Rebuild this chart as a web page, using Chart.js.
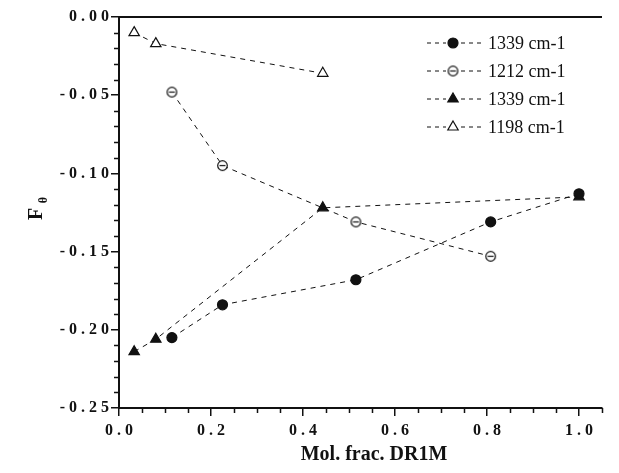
<!DOCTYPE html>
<html>
<head>
<meta charset="utf-8">
<script src="https://cdn.jsdelivr.net/npm/chart.js@4"></script>
<style>
  html, body { margin: 0; padding: 0; background: #fff; }
  #wrap { width: 619px; height: 473px; }
</style>
</head>
<body>
<div id="wrap"><canvas id="chart"></canvas></div>
<script>
// datos
const seriesLabels = ['1339 cm-1', '1212 cm-1', '1339 cm-1', '1198 cm-1'];

const circFillX = [0.115, 0.225, 0.515, 0.808, 1.0];
const circFillY = [-0.205, -0.184, -0.168, -0.131, -0.113];

const circOpenX = [0.115, 0.225, 0.515, 0.808];
const circOpenY = [-0.048, -0.095, -0.131, -0.153];

const triFillX = [0.033, 0.08, 0.443, 1.0];
const triFillY = [-0.214, -0.206, -0.122, -0.115];

const triOpenX = [0.033, 0.08, 0.443];
const triOpenY = [-0.010, -0.017, -0.036];

const xTickValues = [0, 0.2, 0.4, 0.6, 0.8, 1.0];
const yTickValues = [-0.25, -0.20, -0.15, -0.10, -0.05, 0];

const xTitle = 'Mol. frac. DR1M';
const yTitle = 'F';
const ySub = '\u03B8';

const INK = '#111';
const SERIF = '"Liberation Serif", "Times New Roman", serif';

function toPoints(xs, ys) {
    return xs.map((x, i) => ({ x: x, y: ys[i] }));
}

// separa los caracteres como en la figura original
function spaced(s) {
    return s.split('').join(' ');
}

// circulo abierto con raya horizontal
function makeThetaCircle() {
    const c = document.createElement('canvas');
    c.width = 13; c.height = 13;
    const g = c.getContext('2d');
    g.fillStyle = '#fff';
    g.strokeStyle = INK;
    g.lineWidth = 1.2;
    g.beginPath();
    g.arc(6.5, 6.5, 4.8, 0, Math.PI * 2);
    g.fill();
    g.stroke();
    g.beginPath();
    g.moveTo(3.5, 6.5);
    g.lineTo(9.5, 6.5);
    g.stroke();
    return c;
}
const thetaCircle = makeThetaCircle();

function makeDataset(label, xs, ys, style, filled, radius) {
    return {
        label: label,
        data: toPoints(xs, ys),
        borderColor: INK,
        borderWidth: 1,
        borderDash: [5, 5],
        showLine: true,
        fill: false,
        tension: 0,
        pointStyle: style,
        pointRadius: radius,
        pointHoverRadius: radius,
        pointBackgroundColor: filled ? INK : '#fff',
        pointBorderColor: INK,
        pointBorderWidth: 1.2
    };
}

const datasets = [
    makeDataset(seriesLabels[0], circFillX, circFillY, 'circle', true, 5),
    makeDataset(seriesLabels[1], circOpenX, circOpenY, thetaCircle, false, 5),
    makeDataset(seriesLabels[2], triFillX, triFillY, 'triangle', true, 6),
    makeDataset(seriesLabels[3], triOpenX, triOpenY, 'triangle', false, 6)
];

// marco superior, marcas menores, titulos y leyenda
const decor = {
    id: 'decor',
    afterDatasetsDraw(chart) {
        const ctx = chart.ctx;
        const area = chart.chartArea;
        const xs = chart.scales.x;
        const ys = chart.scales.y;
        ctx.save();

        // linea superior
        ctx.strokeStyle = INK;
        ctx.lineWidth = 2;
        ctx.beginPath();
        ctx.moveTo(area.left - 1, area.top);
        ctx.lineTo(area.right, area.top);
        ctx.stroke();

        // marcas menores
        ctx.lineWidth = 1.5;
        ctx.beginPath();
        for (let i = 0; i <= 21; i++) {
            if (i % 4 === 0) continue;
            const px = Math.round(xs.getPixelForValue(i * 0.05)) + 0.5;
            ctx.moveTo(px, area.bottom);
            ctx.lineTo(px, area.bottom + 5);
        }
        for (let i = 0; i <= 25; i++) {
            if (i % 5 === 0) continue;
            const py = Math.round(ys.getPixelForValue(-i * 0.01)) + 0.5;
            ctx.moveTo(area.left, py);
            ctx.lineTo(area.left - 5, py);
        }
        ctx.stroke();

        // titulos de ejes
        ctx.fillStyle = INK;
        ctx.textAlign = 'center';
        ctx.textBaseline = 'middle';
        ctx.font = 'bold 20px ' + SERIF;
        ctx.fillText(xTitle, 374, 455);

        ctx.save();
        ctx.translate(37, 214);
        ctx.rotate(-Math.PI / 2);
        ctx.font = 'bold 20px ' + SERIF;
        ctx.fillText(yTitle, 0, 0);
        ctx.font = 'bold 12px ' + SERIF;
        ctx.fillText(ySub, 14, 7);
        ctx.restore();

        // leyenda
        const rowY = [43, 71, 99, 127];
        chart.data.datasets.forEach((ds, i) => {
            const y = rowY[i];
            ctx.strokeStyle = INK;
            ctx.lineWidth = 1;
            ctx.setLineDash([4, 4]);
            ctx.beginPath();
            ctx.moveTo(427, y);
            ctx.lineTo(446, y);
            ctx.moveTo(461, y);
            ctx.lineTo(484, y);
            ctx.stroke();
            ctx.setLineDash([]);
            ctx.fillStyle = ds.pointBackgroundColor;
            ctx.strokeStyle = ds.pointBorderColor;
            ctx.lineWidth = ds.pointBorderWidth;
            Chart.helpers.drawPoint(ctx, {
                pointStyle: ds.pointStyle,
                radius: ds.pointRadius,
                rotation: 0,
                borderWidth: ds.pointBorderWidth
            }, 453, y);
            ctx.fillStyle = INK;
            ctx.textAlign = 'left';
            ctx.textBaseline = 'middle';
            ctx.font = '18px ' + SERIF;
            ctx.fillText(ds.label, 488, y + 1);
        });

        ctx.restore();
    }
};

new Chart(document.getElementById('chart'), {
    type: 'scatter',
    data: { datasets: datasets },
    options: {
        responsive: true,
        maintainAspectRatio: false,
        animation: false,
        events: [],
        layout: { padding: { left: 0, right: 17, top: 17, bottom: 0 } },
        plugins: {
            legend: { display: false },
            tooltip: { enabled: false }
        },
        scales: {
            x: {
                type: 'linear',
                min: 0,
                max: 1.05,
                afterBuildTicks: (axis) => { axis.ticks = xTickValues.map(v => ({ value: v })); },
                afterFit: (axis) => { axis.height = 65; },
                border: { display: true, color: INK, width: 2 },
                grid: {
                    drawOnChartArea: false,
                    drawTicks: true,
                    tickLength: 8,
                    lineWidth: 1.5,
                    color: INK
                },
                ticks: {
                    padding: 5,
                    color: INK,
                    font: { family: SERIF, size: 16, weight: 'bold' },
                    maxRotation: 0,
                    autoSkip: false,
                    callback: (v) => spaced(v.toFixed(1))
                }
            },
            y: {
                type: 'linear',
                min: -0.25,
                max: 0,
                afterBuildTicks: (axis) => { axis.ticks = yTickValues.map(v => ({ value: v })); },
                afterFit: (axis) => { axis.width = 119; },
                border: { display: true, color: INK, width: 2 },
                grid: {
                    drawOnChartArea: false,
                    drawTicks: true,
                    tickLength: 8,
                    lineWidth: 1.5,
                    color: INK
                },
                ticks: {
                    padding: 2,
                    color: INK,
                    autoSkip: false,
                    font: { family: SERIF, size: 16, weight: 'bold' },
                    callback: (v) => spaced(v.toFixed(2))
                }
            }
        }
    },
    plugins: [decor]
});
</script>
</body>
</html>
